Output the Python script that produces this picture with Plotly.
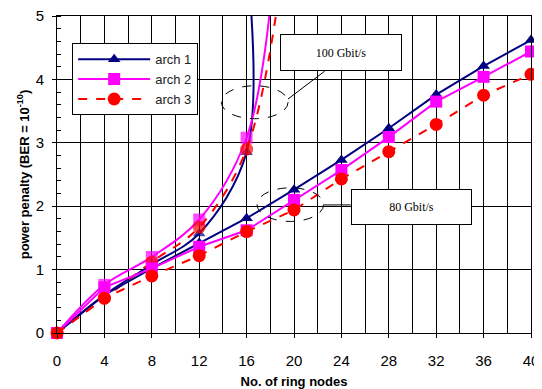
import plotly.graph_objects as go

# ---- data ----
arch1_100_x = [0, 4, 8, 12, 16, 16.3]
arch2_100_x = [0, 4, 8, 12, 16, 18.2]
arch3_100_x = [0, 4, 8, 12, 16, 19.0]

arch1_100 = [0, 0.60, 1.08, 1.57, 2.85, 5.3]
arch2_100 = [0, 0.76, 1.20, 1.79, 3.08, 5.5]
arch3_100 = [0, 0.55, 1.12, 1.67, 2.90, 5.7]

nodes_80 = [0, 4, 8, 12, 16, 20, 24, 28, 32, 36, 40]
arch1_80 = [0, 0.60, 1.02, 1.42, 1.81, 2.26, 2.73, 3.23, 3.76, 4.21, 4.62]
arch2_80 = [0, 0.72, 1.02, 1.36, 1.62, 2.10, 2.57, 3.09, 3.65, 4.04, 4.44]
arch3_80 = [0, 0.55, 0.90, 1.22, 1.60, 1.94, 2.43, 2.86, 3.29, 3.75, 4.08]

names = ["arch 1", "arch 2", "arch 3"]
colors = ["#000080", "#FF00FF", "#FF0000"]
symbols = ["triangle-up", "square", "circle"]
sizes = [11, 12, 13]
dashes = ["solid", "solid", "dash"]

fig = go.Figure()

xs_100 = [arch1_100_x, arch2_100_x, arch3_100_x]
series_100 = [arch1_100, arch2_100, arch3_100]
series_80 = [arch1_80, arch2_80, arch3_80]

for i in range(3):
    msize = [sizes[i]] * (len(xs_100[i]) - 1) + [0]
    fig.add_trace(go.Scatter(
        x=xs_100[i], y=series_100[i], name=names[i], legendgroup=names[i],
        mode="lines+markers", showlegend=False,
        line=dict(color=colors[i], width=2, dash=dashes[i], shape="spline", smoothing=1.0),
        marker=dict(color=colors[i], symbol=symbols[i], size=msize, line=dict(width=0)),
    ))
for i in range(3):
    fig.add_trace(go.Scatter(
        x=nodes_80, y=series_80[i], name=names[i], legendgroup=names[i],
        mode="lines+markers", showlegend=True,
        line=dict(color=colors[i], width=2, dash=dashes[i]),
        marker=dict(color=colors[i], symbol=symbols[i], size=sizes[i], line=dict(width=0)),
        cliponaxis=False,
    ))

# ellipses
fig.add_shape(type="circle", xref="x", yref="y", x0=13.87, x1=19.5, y0=3.38, y1=3.90,
              line=dict(color="black", width=1, dash="dash"))
fig.add_shape(type="circle", xref="x", yref="y", x0=16.88, x1=22.5, y0=1.76, y1=2.29,
              line=dict(color="black", width=1, dash="dash"))
# leader lines
fig.add_shape(type="line", xref="x", yref="y", x0=19.49, y0=3.69, x1=22.59, y1=4.13,
              line=dict(color="black", width=1))
fig.add_shape(type="line", xref="x", yref="y", x0=22.5, y0=2.02, x1=24.78, y1=2.02,
              line=dict(color="black", width=1))

box_font = dict(family="Liberation Serif, Times New Roman, serif", size=12, color="black")
fig.add_annotation(x=24.0, y=4.42, xref="x", yref="y", text="100 Gbit/s", showarrow=False,
                   font=box_font, bgcolor="white", bordercolor="black", borderwidth=1,
                   width=120, height=35, borderpad=0)
fig.add_annotation(x=29.9, y=1.98, xref="x", yref="y", text="80 Gbit/s", showarrow=False,
                   font=box_font, bgcolor="white", bordercolor="black", borderwidth=1,
                   width=119, height=34, borderpad=0)

axis_font = dict(family="Liberation Sans, Arial, sans-serif", size=15, color="black")
title_font = dict(family="Liberation Sans, Arial, sans-serif", size=13, color="black")

# page body has an 8px margin, so the figure is drawn 8px smaller and offset
fig.update_layout(
    width=534, height=381,
    margin=dict(l=49, r=11, t=8, b=56, autoexpand=False),
    paper_bgcolor="white", plot_bgcolor="white",
    font=dict(family="Liberation Sans, Arial, sans-serif", color="black"),
    legend=dict(x=0.032, y=0.914, xanchor="left", yanchor="top",
                bgcolor="white", bordercolor="black", borderwidth=1,
                font=dict(family="Liberation Sans, Arial, sans-serif", size=13, color="#222"),
                itemwidth=72, tracegroupgap=0),
    xaxis=dict(range=[0, 40], dtick=4, tick0=0, showgrid=True, gridcolor="black", gridwidth=1,
               minor=dict(dtick=2, showgrid=True, gridcolor="black", gridwidth=1),
               ticks="outside", ticklen=4, tickcolor="black",
               showline=True, linecolor="black", linewidth=1, mirror=True,
               tickfont=axis_font, ticklabelstandoff=10, zeroline=False, automargin=False,
               ticklabeloverflow="allow",
               title=dict(text="<b>No. of ring nodes</b>", font=title_font, standoff=14)),
    yaxis=dict(range=[0, 5], dtick=1, tick0=0, showgrid=True, gridcolor="black", gridwidth=1,
               minor=dict(dtick=0.2, ticks="inside", ticklen=4, tickcolor="black", showgrid=False),
               ticks="outside", ticklen=4, tickcolor="black",
               showline=True, linecolor="black", linewidth=1, mirror=True,
               tickfont=axis_font, ticklabelstandoff=5, zeroline=False, automargin=False,
               ticklabeloverflow="allow",
               title=dict(text="<b>power penalty (BER = 10<sup>-10</sup>)</b>", font=title_font, standoff=3)),
)

fig.write_html("out.html")
